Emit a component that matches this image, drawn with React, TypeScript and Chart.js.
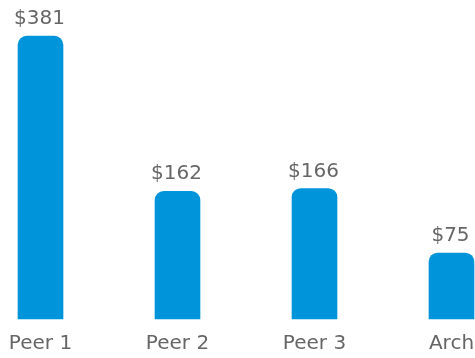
import React, { useEffect, useRef } from "react";
import { Chart, registerables } from "chart.js";

Chart.register(...registerables);

const categories: string[] = ["Peer 1", "Peer 2", "Peer 3", "Arch"];
const values: number[] = [381, 162, 166, 75];
const valuePrefix = "$";
const axisMin = -18;
const axisMax = 400;

const BAR_COLOR = "#0094DB";
const TEXT_COLOR = "#666666";
const FONT = "'DejaVu Sans', Verdana, sans-serif";

const valueLabels = {
  id: "valueLabels",
  afterDatasetsDraw(chart: any) {
    const ctx = chart.ctx;
    const meta = chart.getDatasetMeta(0);
    ctx.save();
    ctx.fillStyle = TEXT_COLOR;
    ctx.font = `20px ${FONT}`;
    ctx.textAlign = "center";
    ctx.textBaseline = "alphabetic";
    meta.data.forEach((el: any, i: number) => {
      ctx.fillText(`${valuePrefix}${values[i]}`, el.x - 1, el.y - 12);
    });
    ctx.restore();
  },
};

export default function App() {
  const ref = useRef<HTMLCanvasElement | null>(null);
  useEffect(() => {
    if (!ref.current) return;
    const chart = new Chart(ref.current, {
      type: "bar",
      data: {
        labels: categories,
        datasets: [
          {
            data: values,
            base: axisMin,
            backgroundColor: BAR_COLOR,
            barThickness: 45,
            borderRadius: { topLeft: 9, topRight: 9, bottomLeft: 0, bottomRight: 0 },
            borderSkipped: false,
            clip: false,
          } as any,
        ],
      },
      options: {
        animation: false,
        responsive: true,
        maintainAspectRatio: false,
        layout: { padding: { top: 22.6, left: 40.5, right: 23.5, bottom: 0 } },
        plugins: { legend: { display: false }, tooltip: { enabled: false } },
        scales: {
          x: {
            offset: false,
            grid: { display: false, drawTicks: false },
            border: { display: false },
            ticks: {
              color: TEXT_COLOR,
              font: { family: FONT, size: 20 },
              padding: 13,
              maxRotation: 0,
              autoSkip: false,
            },
            afterFit: (s: any) => {
              s.paddingLeft = 0;
              s.paddingRight = 0;
              s.height = 39;
            },
          },
          y: {
            display: false,
            min: axisMin,
            max: axisMax,
          },
        },
      },
      plugins: [valueLabels],
    });
    return () => chart.destroy();
  }, []);
  return (
    <div style={{ position: "fixed", left: 0, top: 0, width: 475, height: 358, background: "#fff" }}>
      <canvas ref={ref} />
    </div>
  );
}
